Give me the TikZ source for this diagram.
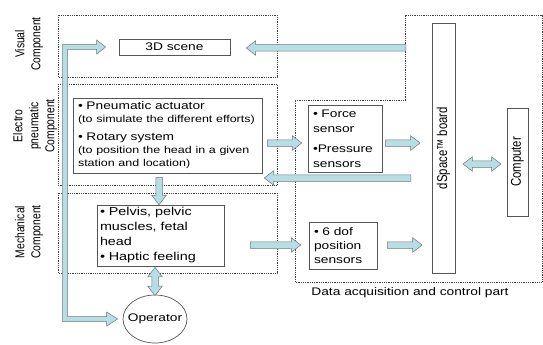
\documentclass[tikz,border=0pt]{standalone}
\usepackage{fontspec}
\setmainfont{Liberation Sans}[FakeStretch=1.25]
\newfontfamily\sidefont{Liberation Sans}[FakeStretch=0.8]
\usetikzlibrary{calc,positioning,shapes.geometric,shapes.arrows}

\definecolor{arrowfill}{RGB}{183,222,228}
\definecolor{arrowline}{RGB}{110,120,122}
\definecolor{boxline}{RGB}{85,85,85}

\tikzset{
  part/.style={draw=black!75, densely dotted, line width=0.8pt},
  block/.style={draw=boxline, line width=0.7pt, rectangle, inner xsep=5pt, inner ysep=0pt, align=left},
  sidelabel/.style={rotate=90, align=center, font=\sidefont\fontsize{12.9}{16}\selectfont},
  blockarrow/.style={single arrow, draw=arrowline, fill=arrowfill, line width=0.5pt,
    inner xsep=0pt, inner ysep=3pt, single arrow head extend=4pt,
    single arrow tip angle=75, single arrow head indent=0pt},
  dblarrow/.style={double arrow, double arrow head extend=4pt,
    double arrow tip angle=75, double arrow head indent=0pt},
  arrowbody/.style={draw=arrowline, fill=arrowfill, line width=0.5pt}
}

% fat arrow between two points, option turns it
\newcommand{\fatarrow}[3][]{%
  \path let \p1=#2, \p2=#3, \n1={veclen(\x2-\x1,\y2-\y1)} in
    node[blockarrow, #1, minimum height=\n1] at ($(\p1)!.5!(\p2)$) {};}

\begin{document}
\begin{tikzpicture}[x=1pt, y=-1pt]
  \useasboundingbox (0,0) rectangle (543,345);

  % component frames
  \draw[part] (58,15) rectangle (277,77);
  \draw[part] (58,84) rectangle (277,185);
  \draw[part] (58,193) rectangle (277,273);
  \draw[part] (405,100) -- (405,15) -- (542,15) -- (542,282) -- (295,282) -- (295,100) -- cycle;

  \node[sidelabel] (vislbl) at (29,44) {Visual\\Component};
  \node[sidelabel] (pnlbl) at (35,126) {Electro\\pneumatic\\Component};
  \node[sidelabel] (mechlbl) at (29,232) {Mechanical\\Component};

  \node[block, align=center, minimum width=111pt, minimum height=16pt,
    font=\fontsize{11}{13}\selectfont] (scene) at (174.5,47) {3D scene};

  \node[block, text width=179pt, minimum height=75pt,
    font=\fontsize{11}{13}\selectfont] (pneu) at (167.5,135.5)
    {• Pneumatic actuator\\
     \fontsize{10}{13}\selectfont(to simulate the different efforts)\\[5pt]
     \fontsize{11}{13}\selectfont• Rotary system\\
     \fontsize{10}{13}\selectfont(to position the head in a given\\
     station and location)};

  \node[block, text width=64pt, minimum height=67pt,
    font=\fontsize{11}{15}\selectfont] (sens) at (345,138.5)
    {• Force\\sensor\\[5pt]•Pressure\\sensors};

  \node[block, inner xsep=3pt, text width=121pt, minimum height=61pt,
    font=\fontsize{11.5}{15}\selectfont] (mech) at (160.5,235.5)
    {• Pelvis, pelvic\\muscles, fetal\\head\\• Haptic feeling};

  \node[block, text width=58pt, minimum height=47pt,
    font=\fontsize{11}{14}\selectfont] (dof) at (343,245.5)
    {• 6 dof\\position\\sensors};

  \node[block, rotate=90, align=center, minimum width=250pt, minimum height=23pt,
    font=\sidefont\fontsize{14.2}{16}\selectfont] (dspace) at (443.5,148) {dSpace™ board};
  \node[block, rotate=90, align=center, minimum width=108pt, minimum height=21pt,
    font=\sidefont\fontsize{14.2}{16}\selectfont] (computer) at (517.5,162) {Computer};

  \node[draw=boxline, line width=0.7pt, ellipse, minimum width=64pt, minimum height=48pt,
    inner sep=0pt, label={[font=\fontsize{11}{13}\selectfont]center:Operator}] (operator) at (155,319) {};

  \node[font=\fontsize{11}{13}\selectfont] (daqlbl) at (410,293) {Data acquisition and control part};

  % feedback bar to the scene and the operator
  \coordinate (scenetip) at ($(scene.west)+(-13,0)$);
  \coordinate (optip) at ($(operator.west)+(-5,0)$);
  \draw[arrowbody] ($(optip)+(-55,2.5)$) -- ($(scenetip)+(-43,-2.5)$)
    -- ($(scenetip)+(-9,-2.5)$) -- ($(scenetip)+(-9,-7)$) -- (scenetip)
    -- ($(scenetip)+(-9,7)$) -- ($(scenetip)+(-9,2.5)$) -- ($(scenetip)+(-38,2.5)$)
    -- ($(optip)+(-50,-2.5)$) -- ($(optip)+(-11,-2.5)$) -- ($(optip)+(-11,-7)$) -- (optip)
    -- ($(optip)+(-11,7)$) -- ($(optip)+(-11,2.5)$) -- cycle;

  % data flow
  \fatarrow[rotate=180]{($(dspace.center)+(-35.5,-100)$)}{($(scene.east)+(18,1)$)}
  \fatarrow{($(pneu.east)+(3,7.5)$)}{($(sens.west)+(-8,4.5)$)}
  \fatarrow{($(sens.east)+(1,4.5)$)}{($(dspace.center)+(-25.5,-5)$)}
  \fatarrow[rotate=180]{($(dspace.center)+(-30.5,30)$)}{($(pneu.east)+(4,42.5)$)}
  \fatarrow[rotate=-90]{($(pneu.south)+(-8.5,2)$)}{($(mech.north)+(-1.5,-2)$)}
  \fatarrow{($(mech.east)+(24,9.5)$)}{($(dof.west)+(-10,-0.5)$)}
  \fatarrow{($(dof.east)+(8,-0.5)$)}{($(dspace.center)+(-23.5,97)$)}
  \fatarrow[dblarrow]{($(dspace.center)+(19.5,16)$)}{($(computer.center)+(-16.5,2)$)}
  \fatarrow[dblarrow, rotate=90]{($(mech.south)+(-5.5,1)$)}{($(operator.north)+(0,1)$)}
\end{tikzpicture}
\end{document}
